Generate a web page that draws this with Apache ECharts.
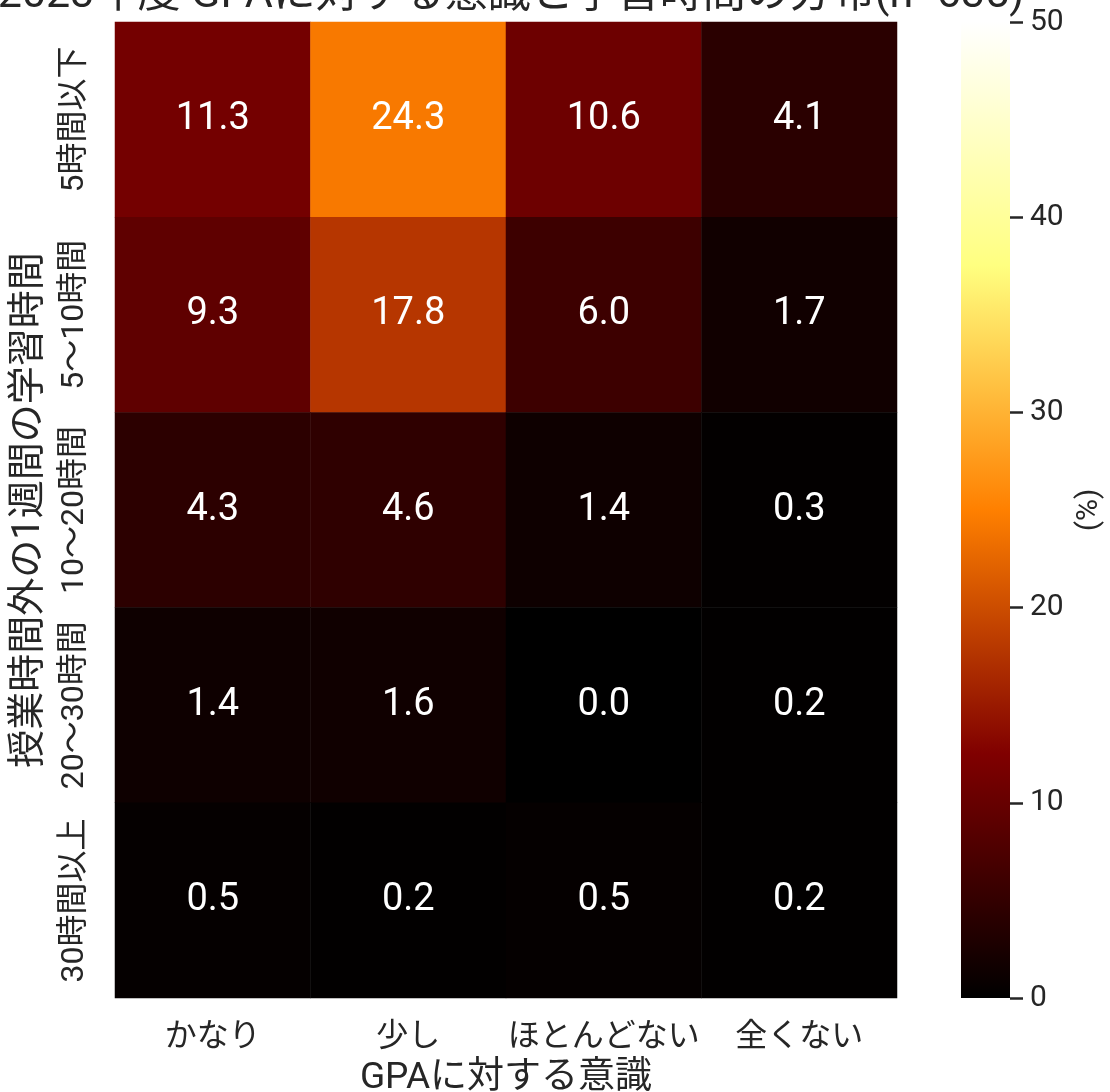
<!DOCTYPE html>
<html><head><meta charset="utf-8">
<script src="https://cdn.jsdelivr.net/npm/echarts@6/dist/echarts.min.js"></script>
<style>html,body{margin:0;padding:0;background:#fff}#c{width:1110px;height:1092px}</style>
</head><body><div id="c"></div>
<script>
const titleText = '2023年度 GPAに対する意識と学習時間の分布(n=635)';
const gpaCategories = ['かなり', '少し', 'ほとんどない', '全くない'];
const hourCategories = ['5時間以下', '5〜10時間', '10〜20時間', '20〜30時間', '30時間以上'];
const row5orLess = [11.3, 24.3, 10.6, 4.1];
const row5to10 = [9.3, 17.8, 6.0, 1.7];
const row10to20 = [4.3, 4.6, 1.4, 0.3];
const row20to30 = [1.4, 1.6, 0.0, 0.2];
const row30orMore = [0.5, 0.2, 0.5, 0.2];
const colorbarMin = 0, colorbarMax = 50, colorbarStep = 10;

const rows = [row5orLess, row5to10, row10to20, row20to30, row30orMore];
const heatData = [];
rows.forEach((r, yi) => r.forEach((v, xi) => heatData.push([xi, yi, v])));

const afmhot = ['#000000', '#800000', '#ff8000', '#ffff80', '#ffffff'];
const font = "Roboto, 'Noto Sans CJK JP', sans-serif";
const ink = '#262626';

const chart = echarts.init(document.getElementById('c'));
chart.setOption({
  animation: false,
  backgroundColor: '#ffffff',
  title: {
    text: titleText, left: 506, textAlign: 'center', top: -30,
    textStyle: { fontFamily: font, fontSize: 43, fontWeight: 'normal', color: ink }
  },
  grid: [
    { left: 115, right: 213, top: 22, bottom: 94, outerBoundsMode: 'none', containLabel: false },
    { left: 961, width: 49, top: 22, bottom: 94, outerBoundsMode: 'none', containLabel: false }
  ],
  xAxis: [
    {
      type: 'category', data: gpaCategories, gridIndex: 0,
      axisLine: { show: false }, axisTick: { show: false }, splitLine: { show: false },
      axisLabel: { interval: 0, margin: 24, fontFamily: font, fontSize: 32, color: ink },
      name: 'GPAに対する意識', nameLocation: 'middle', nameGap: 62,
      nameTextStyle: { fontFamily: font, fontSize: 37, color: ink }
    },
    { type: 'category', data: ['c'], gridIndex: 1, show: false }
  ],
  yAxis: [
    {
      type: 'category', data: hourCategories, gridIndex: 0, inverse: true,
      axisLine: { show: false }, axisTick: { show: false }, splitLine: { show: false },
      axisLabel: { interval: 0, rotate: 90, margin: 24, fontFamily: font, fontSize: 32, color: ink, align: 'center', verticalAlign: 'bottom' },
      name: '授業時間外の1週間の学習時間', nameLocation: 'middle', nameGap: 66, nameRotate: 90,
      nameTextStyle: { fontFamily: font, fontSize: 38, color: ink }
    },
    {
      type: 'value', gridIndex: 1, min: colorbarMin, max: colorbarMax, interval: colorbarStep,
      position: 'right',
      axisLine: { show: false }, splitLine: { show: false },
      axisTick: { show: true, length: 13, lineStyle: { color: ink, width: 2.5 } },
      axisLabel: { margin: 20, fontFamily: font, fontSize: 30, color: ink },
      name: '(%)', nameLocation: 'middle', nameGap: 64, nameRotate: 90,
      nameTextStyle: { fontFamily: font, fontSize: 30, color: ink }
    }
  ],
  visualMap: {
    show: false, seriesIndex: 0, min: colorbarMin, max: colorbarMax,
    inRange: { color: afmhot }
  },
  series: [
    {
      type: 'heatmap', xAxisIndex: 0, yAxisIndex: 0, data: heatData,
      label: {
        show: true, color: '#ffffff', fontFamily: font, fontSize: 38,
        formatter: p => p.value[2].toFixed(1)
      },
      itemStyle: { borderWidth: 0 },
      emphasis: { disabled: true }
    },
    {
      type: 'bar', xAxisIndex: 1, yAxisIndex: 1, data: [colorbarMax],
      barWidth: '100%', silent: true,
      itemStyle: {
        color: new echarts.graphic.LinearGradient(0, 1, 0, 0,
          afmhot.map((c, i) => ({ offset: i / (afmhot.length - 1), color: c })))
      }
    }
  ]
});
</script></body></html>
